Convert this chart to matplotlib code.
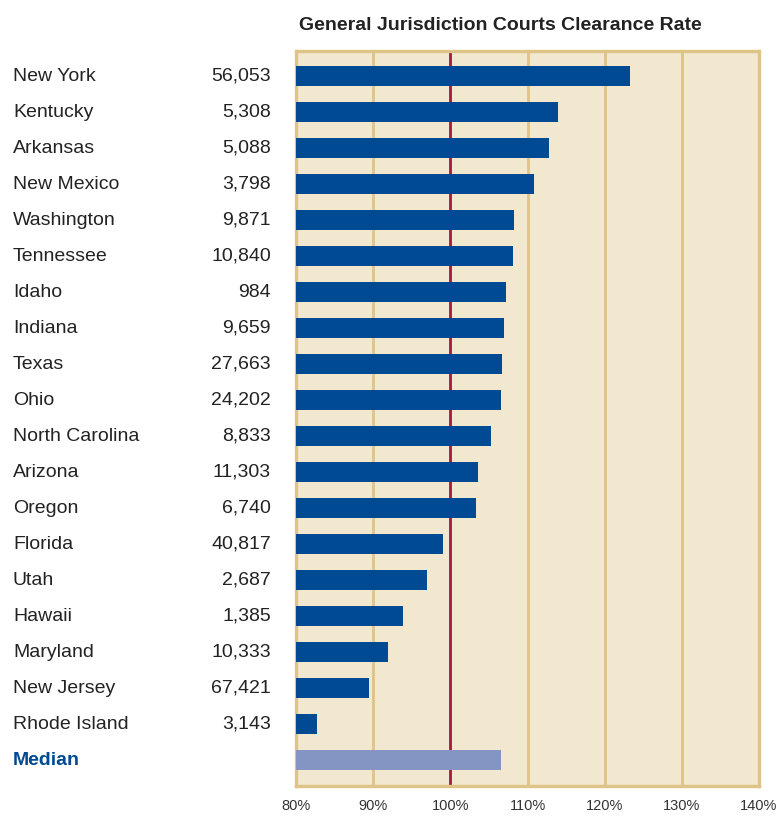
import matplotlib
matplotlib.use("Agg")
import matplotlib.pyplot as plt
from matplotlib.ticker import FuncFormatter

plt.rcParams['font.family'] = ['Liberation Sans', 'DejaVu Sans']

states = ['New York', 'Kentucky', 'Arkansas', 'New Mexico', 'Washington', 'Tennessee',
          'Idaho', 'Indiana', 'Texas', 'Ohio', 'North Carolina', 'Arizona', 'Oregon',
          'Florida', 'Utah', 'Hawaii', 'Maryland', 'New Jersey', 'Rhode Island']
filings = ['56,053', '5,308', '5,088', '3,798', '9,871', '10,840', '984', '9,659',
           '27,663', '24,202', '8,833', '11,303', '6,740', '40,817', '2,687', '1,385',
           '10,333', '67,421', '3,143']
clearance = [123.3, 113.9, 112.8, 110.8, 108.2, 108.1, 107.2, 106.9, 106.7, 106.6,
             105.3, 103.6, 103.3, 99.0, 97.0, 93.9, 91.9, 89.5, 82.7]
median_value = 106.6

blue = '#004a93'
light_blue = '#8494c3'
tan = '#dfc488'
bg = '#f2e7cf'
red = '#a8163a'

fig = plt.figure(figsize=(7.78, 8.17), dpi=100)
ax = fig.add_axes([296 / 778, 1 - 786 / 817, 463 / 778, 735 / 817])
ax.set_facecolor(bg)

n = len(states)
ypos = list(range(n))
ax.barh(ypos, [v - 80 for v in clearance], left=80, height=0.55, color=blue, zorder=3)
ax.barh([n], [median_value - 80], left=80, height=0.55, color=light_blue, zorder=3)

# grid lines, with the 100% mark in red
for x in [90, 110, 120, 130]:
    ax.axvline(x, color=tan, lw=2, zorder=1)
ax.axvline(100, color=red, lw=2, zorder=2)

ax.set_xlim(80, 140)
ax.set_ylim(n + 0.72, -0.7)
ax.set_xticks(range(80, 141, 10))
ax.xaxis.set_major_formatter(FuncFormatter(lambda v, p: f'{v:.0f}%'))
ax.tick_params(axis='x', length=0, labelsize=10.5, labelcolor='#333333', pad=9)
ax.set_yticks([])
for s in ax.spines.values():
    s.set_color(tan)
    s.set_linewidth(2.4)

tr = ax.get_yaxis_transform()
for i, (name, num) in enumerate(zip(states, filings)):
    ax.text(-283 / 463, i, name, transform=tr, ha='left', va='center',
            fontsize=14, color='#222222')
    ax.text(-25 / 463, i, num, transform=tr, ha='right', va='center',
            fontsize=14, color='#222222')
ax.text(-283 / 463, n, 'Median', transform=tr, ha='left', va='center',
        fontsize=14, color=blue, fontweight='bold')

fig.text(500 / 778, 1 - 26 / 817, 'General Jurisdiction Courts Clearance Rate',
         ha='center', va='center', fontsize=14, fontweight='bold', color='#222222')

fig.savefig('out.png', dpi=100)
